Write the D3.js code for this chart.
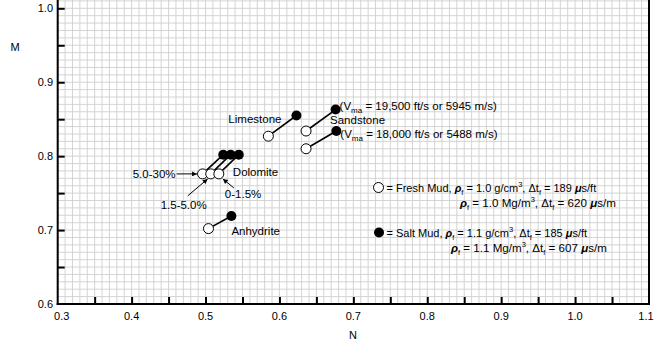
<!DOCTYPE html>
<html><head><meta charset="utf-8">
<script src="https://cdn.jsdelivr.net/npm/d3@7"></script>
<style>
html,body{margin:0;padding:0;background:#fff;}
svg{display:block;font-family:"Liberation Sans",Arial,Helvetica,sans-serif;}
</style></head>
<body>
<svg id="chart" width="654" height="346"></svg>
<script>
// ---- data ----
const lithology = ["Limestone","Sandstone 19500","Sandstone 18000","Dolomite 5.0-30%","Dolomite 1.5-5.0%","Dolomite 0-1.5%","Anhydrite"];
const freshN = [0.585, 0.636, 0.636, 0.496, 0.507, 0.518, 0.504];
const freshM = [0.827, 0.834, 0.810, 0.776, 0.776, 0.776, 0.702];
const saltN  = [0.623, 0.676, 0.677, 0.524, 0.534, 0.545, 0.535];
const saltM  = [0.855, 0.863, 0.834, 0.802, 0.802, 0.802, 0.719];
const xTicks = [0.3,0.4,0.5,0.6,0.7,0.8,0.9,1.0,1.1];
const xTickLabels = ["0.3","0.4","0.5","0.6","0.7","0.8","0.9","1.0","1.1"];
const yTicks = [0.6,0.7,0.8,0.9,1.0];
const yTickLabels = ["0.6","0.7","0.8","0.9","1.0"];

(function(){
const svg = d3.select("#chart");
const mLeft = 57.7, mRight = 649, mBottom = 304, mTop = 8.3;
const x = d3.scaleLinear().domain([0.3,1.1]).range([mLeft,mRight]);
const y = d3.scaleLinear().domain([0.6,1.0]).range([mBottom,mTop]);
const yTopVal = y.invert(0);

// grid
const g = svg.append("g");
const gx = d3.range(30,111).map(d=>d/100);
const gy = d3.range(60,102).map(d=>d/100).filter(d=>d<=yTopVal);
g.selectAll(".vx").data(gx).join("line")
  .attr("x1",d=>x(d)).attr("x2",d=>x(d)).attr("y1",0).attr("y2",mBottom)
  .attr("stroke","#cfcfcf").attr("stroke-width",0.9);
g.selectAll(".hy").data(gy).join("line")
  .attr("x1",mLeft).attr("x2",mRight).attr("y1",d=>y(d)).attr("y2",d=>y(d))
  .attr("stroke","#cfcfcf").attr("stroke-width",0.9);

// axes
const xAxis = d3.axisTop(x).tickValues(d3.range(35,110,5).map(d=>d/100)).tickSize(7).tickFormat("");
svg.append("g").attr("transform",`translate(0,${mBottom})`).call(xAxis)
  .call(a=>a.select(".domain").remove())
  .selectAll("line").attr("stroke","#000").attr("stroke-width",2);
const yAxis = d3.axisRight(y).tickValues(d3.range(65,101,5).map(d=>d/100)).tickSize(7).tickFormat("");
svg.append("g").attr("transform",`translate(${mLeft},0)`).call(yAxis)
  .call(a=>a.select(".domain").remove())
  .selectAll("line").attr("stroke","#000").attr("stroke-width",2);

svg.append("line").attr("x1",mLeft).attr("x2",mLeft).attr("y1",0).attr("y2",mBottom+1).attr("stroke","#000").attr("stroke-width",2);
svg.append("line").attr("x1",mLeft-1).attr("x2",mRight+1).attr("y1",mBottom).attr("y2",mBottom).attr("stroke","#000").attr("stroke-width",2);
svg.append("line").attr("x1",mRight).attr("x2",mRight).attr("y1",0).attr("y2",mBottom+1).attr("stroke","#000").attr("stroke-width",2);

// tick labels
const fs = 11;
svg.selectAll(".xl").data(xTicks).join("text")
  .attr("x",(d,i)=>x(d)+(i===0?4:(i===xTicks.length-1?-3:0)))
  .attr("y",320).attr("text-anchor","middle").attr("font-size",fs).text((d,i)=>xTickLabels[i]);
svg.selectAll(".yl").data(yTicks).join("text")
  .attr("x",53).attr("y",d=>y(d)+4).attr("text-anchor","end").attr("font-size",fs).text((d,i)=>yTickLabels[i]);
svg.append("text").attr("x",15).attr("y",51).attr("text-anchor","middle").attr("font-size",fs).text("M");
svg.append("text").attr("x",353).attr("y",339).attr("text-anchor","middle").attr("font-size",fs).text("N");

// connectors
const pts = lithology.map((d,i)=>({name:d,fn:freshN[i],fm:freshM[i],sn:saltN[i],sm:saltM[i]}));
svg.selectAll(".conn").data(pts).join("line")
  .attr("x1",d=>x(d.fn)).attr("y1",d=>y(d.fm)).attr("x2",d=>x(d.sn)).attr("y2",d=>y(d.sm))
  .attr("stroke","#000").attr("stroke-width",1.6);
svg.selectAll(".salt").data(pts).join("circle")
  .attr("cx",d=>x(d.sn)).attr("cy",d=>y(d.sm)).attr("r",5).attr("fill","#000");
svg.selectAll(".fresh").data(pts).join("circle")
  .attr("cx",d=>x(d.fn)).attr("cy",d=>y(d.fm)).attr("r",5).attr("fill","#fff").attr("stroke","#000").attr("stroke-width",1);

// arrow marker
svg.append("defs").append("marker").attr("id","ah").attr("viewBox","0 0 10 10")
  .attr("refX",10).attr("refY",5).attr("markerWidth",7).attr("markerHeight",5).attr("orient","auto")
  .attr("markerUnits","userSpaceOnUse")
  .append("path").attr("d","M0,0L10,5L0,10z").attr("fill","#000");

const fsz = 11.5;
function label(txt, px, py, anchor){
  return svg.append("text").attr("x",px).attr("y",py).attr("font-size",fsz).attr("text-anchor",anchor||"start").text(txt);
}
const P = pts;
label("Limestone", x(P[0].sn)-15, y(P[0].sm)+7.5, "end");
label("Sandstone", x(P[1].fn)+24, y(P[1].fm)-7);
function vma(i, dy, txt){
  const t = svg.append("text").attr("x",x(P[i].sn)+4).attr("y",y(P[i].sm)+dy).attr("font-size",fsz);
  t.append("tspan").text("(V");
  t.append("tspan").attr("font-size",8).attr("dy",3).text("ma");
  t.append("tspan").attr("dy",-3).text(txt);
}
vma(1, 0.8, " = 19,500 ft/s or 5945 m/s)");
vma(2, 7, " = 18,000 ft/s or 5488 m/s)");
label("Dolomite", x(P[5].fn)+14, y(P[5].fm)+2.5);
label("5.0-30%", x(P[3].fn)-27, y(P[3].fm)+4, "end");
label("0-1.5%", x(P[5].fn)+6, y(P[5].fm)+24.5);
label("1.5-5.0%", x(P[4].fn)-4, y(P[4].fm)+35.5, "end");
label("Anhydrite", x(P[6].sn), y(P[6].sm)+19);
function arrow(x1,y1,x2,y2){
  svg.append("line").attr("x1",x1).attr("y1",y1).attr("x2",x2).attr("y2",y2)
    .attr("stroke","#000").attr("stroke-width",1).attr("marker-end","url(#ah)");
}
arrow(x(P[3].fn)-26, y(P[3].fm), x(P[3].fn)-5.5, y(P[3].fm));
arrow(x(P[5].fn)+15, y(P[5].fm)+14, x(P[5].fn)+4, y(P[5].fm)+5);
arrow(x(P[4].fn)-23, y(P[4].fm)+22, x(P[4].fn)-3, y(P[4].fm)+5);

// legend
function legLine(px, py, parts, lfs){
  const t = svg.append("text").attr("x",px).attr("y",py).attr("font-size",lfs);
  let shift = 0;
  parts.forEach(p=>{
    let target = 0, sp;
    if(p.t==="sub") target = 3; else if(p.t==="sup") target = -4.5;
    sp = t.append("tspan").text(p.v);
    if(target !== shift){ sp.attr("dy", target - shift); shift = target; }
    if(p.t==="i") sp.attr("font-style","italic").attr("font-weight","bold");
    if(p.t==="sub"||p.t==="sup") sp.attr("font-size",7.5);
  });
}
svg.append("circle").attr("cx",378.5).attr("cy",187.5).attr("r",5).attr("fill","#fff").attr("stroke","#000").attr("stroke-width",1);
svg.append("circle").attr("cx",379).attr("cy",232.5).attr("r",5).attr("fill","#000");
legLine(386.5, 191.5, [{t:"n",v:"= Fresh Mud, "},{t:"i",v:"ρ"},{t:"sub",v:"f"},{t:"n",v:" = 1.0 g/cm"},{t:"sup",v:"3"},{t:"n",v:", Δt"},{t:"sub",v:"f"},{t:"n",v:" = 189 "},{t:"i",v:"μ"},{t:"n",v:"s/ft"}], 11);
legLine(460, 206.5, [{t:"i",v:"ρ"},{t:"sub",v:"f"},{t:"n",v:" = 1.0 Mg/m"},{t:"sup",v:"3"},{t:"n",v:", Δt"},{t:"sub",v:"f"},{t:"n",v:" = 620 "},{t:"i",v:"μ"},{t:"n",v:"s/m"}], 11.6);
legLine(386.5, 236.5, [{t:"n",v:"= Salt Mud, "},{t:"i",v:"ρ"},{t:"sub",v:"f"},{t:"n",v:" = 1.1 g/cm"},{t:"sup",v:"3"},{t:"n",v:", Δt"},{t:"sub",v:"f"},{t:"n",v:" = 185 "},{t:"i",v:"μ"},{t:"n",v:"s/ft"}], 11);
legLine(451, 251.5, [{t:"i",v:"ρ"},{t:"sub",v:"f"},{t:"n",v:" = 1.1 Mg/m"},{t:"sup",v:"3"},{t:"n",v:", Δt"},{t:"sub",v:"f"},{t:"n",v:" = 607 "},{t:"i",v:"μ"},{t:"n",v:"s/m"}], 11.6);
})();
</script>
</body></html>
